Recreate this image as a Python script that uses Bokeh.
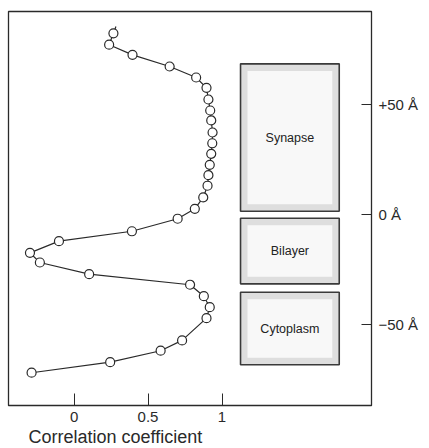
from bokeh.plotting import figure
from bokeh.models import FixedTicker, Range1d, Title
from bokeh.core.properties import value
from bokeh.embed import file_html
from bokeh.resources import INLINE

# Correlation profile (x = correlation coefficient, y = distance in Angstrom)
corr = [0.266, 0.237, 0.395, 0.646, 0.825, 0.895, 0.908, 0.920, 0.927, 0.936,
        0.934, 0.927, 0.917, 0.908, 0.902, 0.873, 0.816, 0.700, 0.391, -0.102,
        -0.298, -0.231, 0.102, 0.784, 0.877, 0.917, 0.895, 0.730, 0.585, 0.244,
        -0.287]
dist = [82.6, 77.4, 72.8, 67.5, 62.5, 57.8, 52.5, 47.5, 43.0, 37.5,
        32.6, 27.8, 22.8, 18.1, 13.3, 8.0, 2.8, -1.7, -7.4, -11.9,
        -17.2, -21.6, -26.9, -31.7, -36.9, -41.9, -46.9, -57.0, -61.7, -66.9,
        -71.7]
# curve continues slightly above the first marker
line_corr = [0.283] + corr
line_dist = [85.7] + dist

# Region boxes
regions = ["Synapse", "Bilayer", "Cytoplasm"]
reg_left = [1.125, 1.125, 1.125]
reg_right = [1.792, 1.792, 1.792]
reg_top = [68.7, -1.5, -35.1]
reg_bottom = [1.7, -31.3, -68.1]

x_ticks = [0, 0.5, 1]
x_tick_labels = {0: "0", 0.5: "0.5", 1: "1"}
y_ticks = [-50, 0, 50]
y_tick_labels = {-50: "\u221250 \u00c5", 0: "0 \u00c5", 50: "+50 \u00c5"}
x_title = "Correlation coefficient"

FONT = "Liberation Sans"
INK = "#2a2a2a"

p = figure(width=429, height=448, output_backend="svg", toolbar_location=None,
           x_range=Range1d(-0.443, 2.01), y_range=Range1d(-86.6, 92.5),
           y_axis_location="right",
           min_border_left=8, min_border_right=58,
           min_border_top=11, min_border_bottom=43)
p.grid.visible = False
p.outline_line_color = INK
p.outline_line_width = 1.3
p.background_fill_color = "white"
p.border_fill_color = "white"

# boxes: grey stippled rim with a lighter centre
p.quad(left=reg_left, right=reg_right, top=reg_top, bottom=reg_bottom,
       fill_color="#dedede", line_color="#3a3a3a", line_width=1.6)
dx, dy = 0.047, 3.2
p.quad(left=[v + dx for v in reg_left], right=[v - dx for v in reg_right],
       top=[v - dy for v in reg_top], bottom=[v + dy for v in reg_bottom],
       fill_color="#f8f8f8", line_color=None)
p.text(x=[(a + b) / 2 for a, b in zip(reg_left, reg_right)],
       y=[(a + b) / 2 for a, b in zip(reg_top, reg_bottom)],
       text=regions, text_align="center", text_baseline="middle",
       text_font=value(FONT), text_font_size="12.5px", text_color="#222222")

# curve
p.line(line_corr, line_dist, line_color=INK, line_width=1.2)
p.scatter(corr, dist, marker="circle", size=9, fill_color="white",
          line_color=INK, line_width=1.2)

# bottom axis
xa = p.xaxis[0]
xa.ticker = FixedTicker(ticks=x_ticks)
xa.major_label_overrides = x_tick_labels
xa.major_tick_in = 12
xa.major_tick_out = 0
xa.minor_tick_line_color = None
xa.major_tick_line_color = INK
xa.axis_line_color = INK
xa.major_label_standoff = 6
xa.major_label_text_font = FONT
xa.major_label_text_font_size = "15px"
xa.major_label_text_color = INK

# right axis
ya = p.yaxis[0]
ya.ticker = FixedTicker(ticks=y_ticks)
ya.major_label_overrides = y_tick_labels
ya.major_tick_in = 10
ya.major_tick_out = 0
ya.minor_tick_line_color = None
ya.major_tick_line_color = INK
ya.axis_line_color = INK
ya.major_label_standoff = 7
ya.major_label_text_font = FONT
ya.major_label_text_font_size = "15px"
ya.major_label_text_color = INK

p.add_layout(Title(text=x_title, align="left", offset=20, standoff=0,
                   text_font=FONT, text_font_size="18px",
                   text_font_style="normal", text_color=INK), "below")

open("out.html", "w").write(file_html(p, INLINE))
